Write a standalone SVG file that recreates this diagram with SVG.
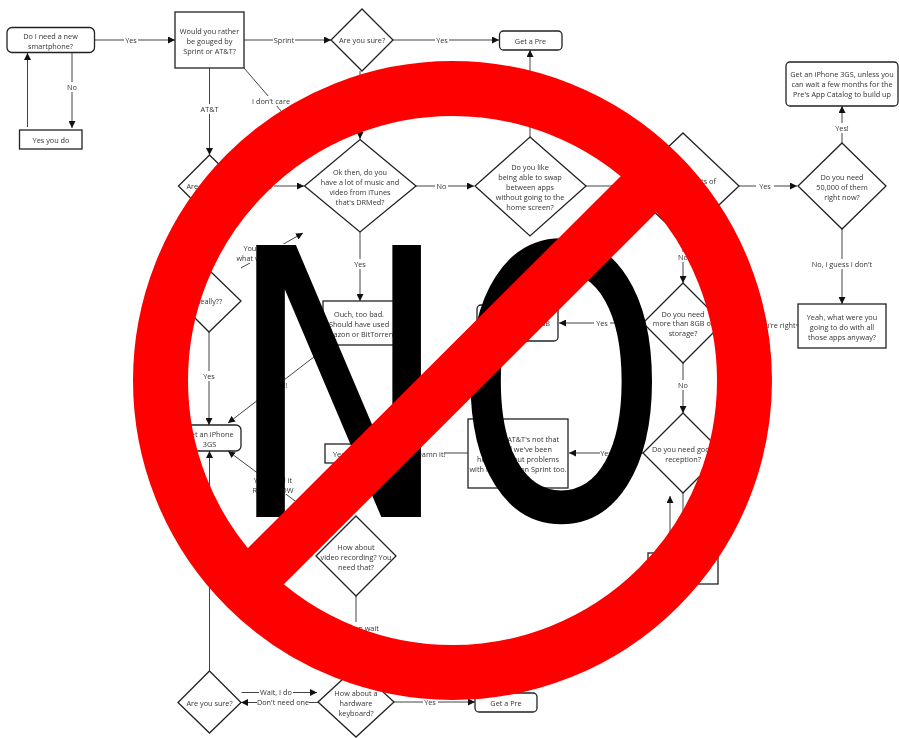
<svg xmlns="http://www.w3.org/2000/svg" width="899" height="738" viewBox="0 0 899 738">
<style>
svg>g:not(#overlay){filter:blur(.35px)}
.b{fill:#fff;stroke:#222;stroke-width:1.3}
.t{font:7.3px "Open Sans","Noto Sans",sans-serif;fill:#333;text-anchor:middle}
.l{fill:#fff;stroke:none}
.c path{fill:none;stroke:#444;stroke-width:1;marker-end:url(#a)}
.c path.n{marker-end:none}
.big{font-family:"DejaVu Sans",sans-serif;font-size:373px;fill:#000}
</style>
<defs><marker id="a" viewBox="0 0 7 7" refX="7" refY="3.5" markerWidth="7" markerHeight="7" markerUnits="userSpaceOnUse" orient="auto"><path d="M0 0L7 3.5L0 7z" fill="#111"/></marker></defs>
<rect width="899" height="738" fill="#fff"/>
<g id="connectors" class="c">
<path d="M94.500 40H175"/><path d="M72 52V128"/><path d="M27.500 127V53"/>
<path d="M244 40H331"/><path d="M393 40H499"/><path d="M209.500 68V155"/>
<path class="n" d="M244 68L300 133"/><path d="M360 71V139"/>
<path d="M241 186H304"/><path d="M416 186H474"/><path d="M530 137V50"/>
<path class="n" d="M586 186H627"/><path d="M739 186H797"/><path d="M842 143V106"/><path d="M842 229V304"/>
<path d="M683 239V283"/><path d="M643 323H559"/><path class="n" d="M723 325H798"/><path d="M683 363V413"/>
<path d="M643 453H569"/><path class="n" d="M468 453H395"/><path class="n" d="M683 493V553"/><path d="M670 553V496"/>
<path d="M360 232V301"/><path d="M323 350L228 423"/>
<path d="M209 332V425"/><path d="M209.500 671V451"/>
<path d="M241 268L303 233"/><path d="M330 527L228 451"/>
<path d="M356 596V667"/>
<path d="M241.500 692.500H317"/><path d="M318 702.500H241"/><path d="M394 702H475"/>
</g>
<g id="edge-labels">
<g><rect class="l" x="124" y="35" width="14" height="10"/><text class="t" x="131" y="42.800">Yes</text></g>
<g><rect class="l" x="66" y="82" width="12" height="10"/><text class="t" x="72" y="89.800">No</text></g>
<g><rect class="l" x="273" y="35" width="22" height="10"/><text class="t" x="284" y="42.800">Sprint</text></g>
<g><rect class="l" x="435" y="35" width="14" height="10"/><text class="t" x="442" y="42.800">Yes</text></g>
<g><rect class="l" x="200" y="104" width="19" height="10"/><text class="t" x="209.500" y="111.500">AT&amp;T</text></g>
<g><rect class="l" x="252" y="96" width="38" height="10"/><text class="t" x="271" y="104.300">I don't care</text></g>
<g><rect class="l" x="258" y="181" width="16" height="10"/><text class="t" x="266" y="188.800">Yes</text></g>
<g><rect class="l" x="435" y="181" width="13" height="10"/><text class="t" x="441.500" y="188.800">No</text></g>
<g><rect class="l" x="756" y="181" width="18" height="10"/><text class="t" x="765" y="188.800">Yes</text></g>
<g><rect class="l" x="833" y="123" width="18" height="10"/><text class="t" x="842" y="130.500">Yes!</text></g>
<g><rect class="l" x="811" y="259" width="62" height="10"/><text class="t" x="842" y="266.500">No, I guess I don't</text></g>
<g><rect class="l" x="677" y="252" width="12" height="10"/><text class="t" x="683" y="260">No</text></g>
<g><rect class="l" x="594" y="318" width="16" height="10"/><text class="t" x="602" y="325.500">Yes</text></g>
<g><rect class="l" x="752" y="320" width="44" height="10"/><text class="t" x="776" y="328">You're right</text></g>
<g><rect class="l" x="677" y="380" width="12" height="10"/><text class="t" x="683" y="388">No</text></g>
<g><rect class="l" x="600" y="448" width="14" height="10"/><text class="t" x="606" y="456">Yes</text></g>
<g><rect class="l" x="414" y="449" width="31" height="10"/><text class="t" x="431" y="456.500">Damn it!</text></g>
<g><rect class="l" x="352" y="259" width="16" height="10"/><text class="t" x="360" y="266.500">Yes</text></g>
<g><rect class="l" x="201" y="371" width="16" height="10"/><text class="t" x="209" y="379">Yes</text></g>
<g><rect class="l" x="258" y="380" width="34" height="10"/><text class="t" x="275" y="387.500">Damn!!</text></g>
<g><rect class="l" x="236" y="244" width="50" height="19"/><text class="t" x="260" y="250.500">You know</text><text class="t" x="260" y="260.500">what we want</text></g>
<g><rect class="l" x="252" y="474" width="42" height="20"/><text class="t" x="273" y="483">You need it</text><text class="t" x="273" y="493">RIGHT NOW</text></g>
<g><rect class="l" x="330" y="622" width="50" height="10"/><text class="t" x="356" y="630.500">No, I can wait</text></g>
<g><rect class="l" x="259" y="687" width="34" height="10"/><text class="t" x="276" y="695.200">Wait, I do</text></g>
<g><rect class="l" x="257" y="697" width="52" height="10"/><text class="t" x="283" y="705.200">Don't need one</text></g>
<g><rect class="l" x="423" y="697" width="15" height="10"/><text class="t" x="430" y="705">Yes</text></g>
</g>
<g id="n1"><rect class="b" x="7" y="27.500" width="87.500" height="25" rx="5"/><text class="t" x="50.500" y="38.500">Do I need a new</text><text class="t" x="50.500" y="48.500">smartphone?</text></g>
<g id="n2"><rect class="b" x="19.500" y="130" width="62.500" height="19"/><text class="t" x="51" y="143">Yes you do</text></g>
<g id="n3"><rect class="b" x="175" y="12" width="69" height="56"/><text class="t" x="209.500" y="33.500">Would you rather</text><text class="t" x="209.500" y="43.500">be gouged by</text><text class="t" x="209.500" y="53.500">Sprint or AT&amp;T?</text></g>
<g id="n4"><path class="b" d="M362 9L393 40L362 71L331 40Z"/><text class="t" x="362" y="43">Are you sure?</text></g>
<g id="n5"><rect class="b" x="499.500" y="31" width="62.500" height="19" rx="4"/><text class="t" x="530.500" y="43.500">Get a Pre</text></g>
<g id="n6"><path class="b" d="M209.500 155L241 186L209.500 217L178.500 186Z"/><text class="t" x="209.500" y="189">Are you sure?</text></g>
<g id="n7"><path class="b" d="M360 139.500L416 186L360 232L304.500 186Z"/><text class="t" x="360" y="174.500">Ok then, do you</text><text class="t" x="360" y="184.500">have a lot of music and</text><text class="t" x="360" y="194.500">video from iTunes</text><text class="t" x="360" y="204.500">that's DRMed?</text></g>
<g id="n8"><path class="b" d="M530 137L586 186L530 236L475 186Z"/><text class="t" x="530" y="169.500">Do you like</text><text class="t" x="530" y="179.500">being able to swap</text><text class="t" x="530" y="189.500">between apps</text><text class="t" x="530" y="199.500">without going to the</text><text class="t" x="530" y="209.500">home screen?</text></g>
<g id="n9"><path class="b" d="M683 133L739 186L683 239L627 186Z"/><text class="t" x="683" y="184">Do you want lots of</text><text class="t" x="683" y="194">apps?</text></g>
<g id="n10"><path class="b" d="M842 143L886 186L842 229L798 186Z"/><text class="t" x="842" y="179.500">Do you need</text><text class="t" x="842" y="189.500">50,000 of them</text><text class="t" x="842" y="199.500">right now?</text></g>
<g id="n11"><rect class="b" x="786" y="62" width="112" height="44" rx="4"/><text class="t" x="842" y="77">Get an iPhone 3GS, unless you</text><text class="t" x="842" y="87">can wait a few months for the</text><text class="t" x="842" y="97">Pre's App Catalog to build up</text></g>
<g id="n12"><rect class="b" x="798" y="304" width="88" height="44"/><text class="t" x="842" y="319.500">Yeah, what were you</text><text class="t" x="842" y="329.500">going to do with all</text><text class="t" x="842" y="339.500">those apps anyway?</text></g>
<g id="n13"><path class="b" d="M683 283L723 323L683 363L643 323Z"/><text class="t" x="683" y="316.500">Do you need</text><text class="t" x="683" y="326">more than 8GB of</text><text class="t" x="683" y="336">storage?</text></g>
<g id="n14"><rect class="b" x="477" y="305" width="81" height="36" rx="4"/><text class="t" style="text-anchor:end" x="550" y="326">Get an iPhone 32GB</text></g>
<g id="n15"><path class="b" d="M683 413L723 453L683 493L643 453Z"/><text class="t" x="683" y="452">Do you need good</text><text class="t" x="683" y="462">reception?</text></g>
<g id="n16"><rect class="b" x="468" y="419" width="100" height="69"/><text class="t" x="518" y="442">Actually, AT&amp;T's not that</text><text class="t" x="518" y="452">bad and we've been</text><text class="t" x="518" y="462">hearing about problems</text><text class="t" x="518" y="472">with reception on Sprint too.</text></g>
<g id="n17"><rect class="b" x="648" y="553" width="70" height="31"/></g>
<g id="n18"><rect class="b" x="325" y="444" width="70" height="19"/><text class="t" x="360" y="456.500">Yeah, that's fine</text></g>
<g id="n19"><rect class="b" x="323" y="301" width="73" height="44"/><text class="t" x="359" y="316.500">Ouch, too bad.</text><text class="t" x="359" y="326.500">Should have used</text><text class="t" x="359" y="336.500">Amazon or BitTorrent</text></g>
<g id="n20"><rect class="b" x="178" y="425" width="63" height="26" rx="5"/><text class="t" x="209.500" y="436.500">Get an iPhone</text><text class="t" x="209.500" y="446.500">3GS</text></g>
<g id="n21"><path class="b" d="M209 270L241 301L209 332L178 301Z"/><text class="t" x="209" y="304">Really??</text></g>
<g id="n22"><path class="b" d="M356 516L396 556L356 596L316 556Z"/><text class="t" x="356" y="549.500">How about</text><text class="t" x="356" y="559.500">video recording? You</text><text class="t" x="356" y="569.500">need that?</text></g>
<g id="n23"><path class="b" d="M209.500 671L241 702.500L209.500 733L178 702.500Z"/><text class="t" x="209.500" y="705.500">Are you sure?</text></g>
<g id="n24"><path class="b" d="M356 667L394 702L356 737L318 702Z"/><text class="t" x="356" y="696">How about a</text><text class="t" x="356" y="706">hardware</text><text class="t" x="356" y="716">keyboard?</text></g>
<g id="n25"><rect class="b" x="475" y="693" width="62" height="19" rx="4"/><text class="t" x="506" y="705.500">Get a Pre</text></g>
<g id="overlay">
<text class="big" transform="translate(227 517) scale(0.8 1)">N</text>
<text class="big" transform="translate(457 517) scale(0.71 1)" stroke="#000" stroke-width="4">O</text>
<circle cx="452.500" cy="380.500" r="292" fill="none" stroke="#f00" stroke-width="55"/>
<path d="M240 592L664 169" fill="none" stroke="#f00" stroke-width="51"/>
</g>
</svg>
